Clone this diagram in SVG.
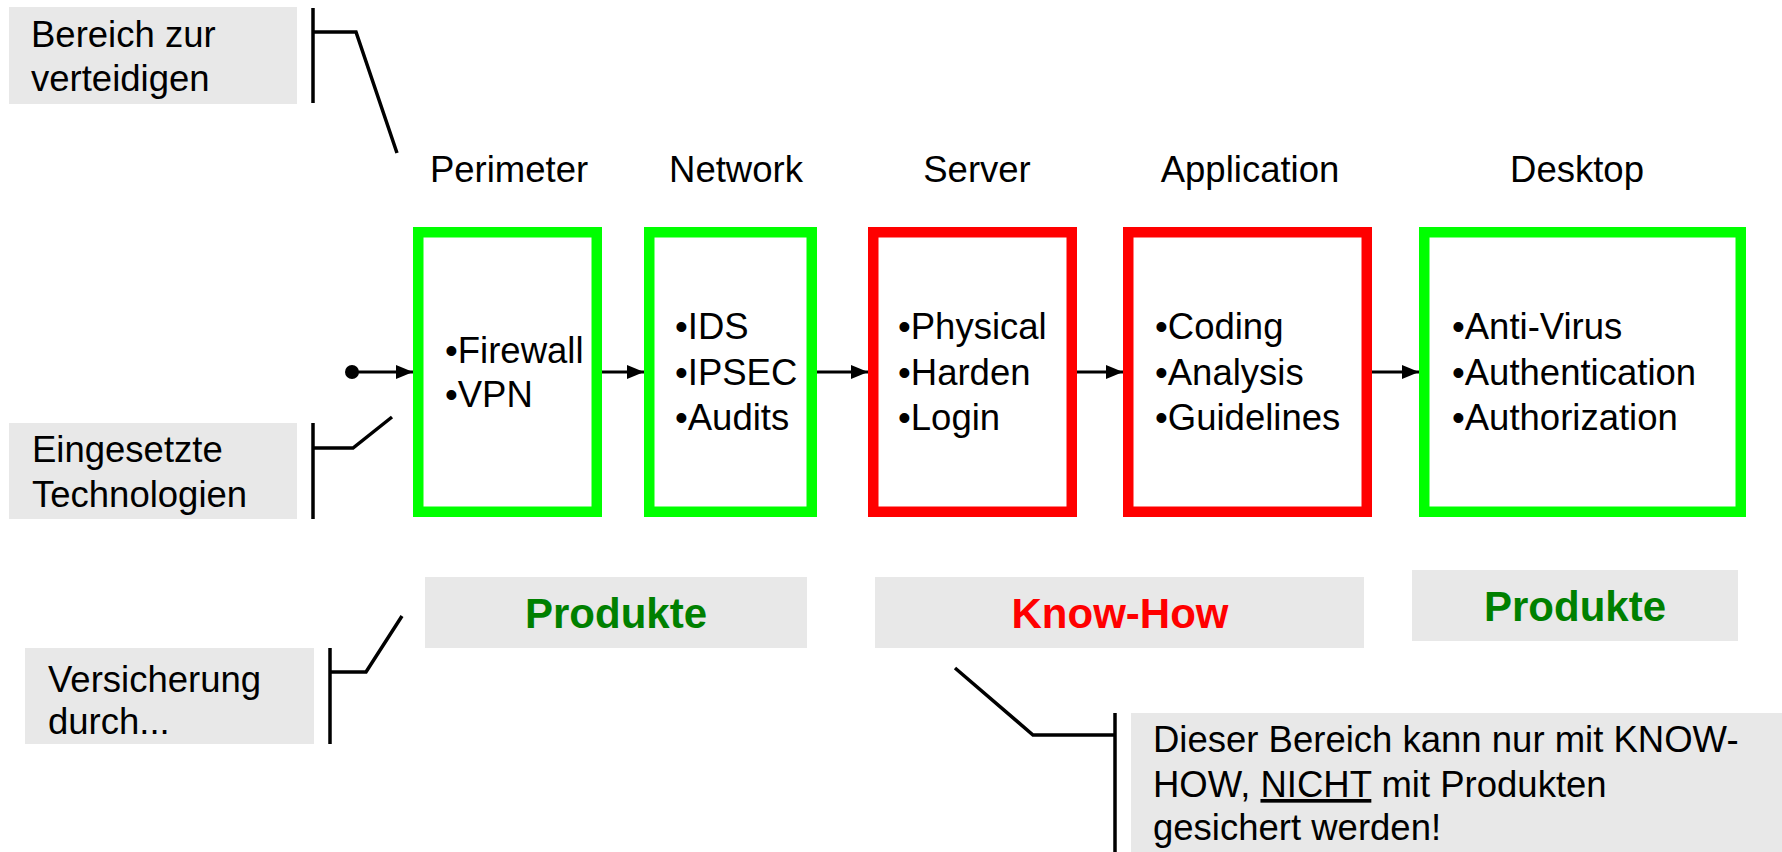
<svg xmlns="http://www.w3.org/2000/svg" width="1782" height="852" viewBox="0 0 1782 852">
<style>
text{font-family:"Liberation Sans",Arial,sans-serif;font-size:36.5px;fill:#000}
.gbox{fill:#e8e8e8}
.green{fill:none;stroke:#00ff00;stroke-width:10.5}
.red{fill:none;stroke:#ff0000;stroke-width:10.5}
.big{font-weight:bold;font-size:42px;text-anchor:middle}
.title{text-anchor:middle}
.line{fill:none;stroke:#000;stroke-width:3.5}
.arr{fill:none;stroke:#000;stroke-width:3;marker-end:url(#ah)}
</style>
<defs>
<marker id="ah" markerUnits="userSpaceOnUse" markerWidth="17" markerHeight="14" refX="17" refY="7" orient="auto">
<path d="M0,0 L17,7 L0,14 Z" fill="#000"/>
</marker>
</defs>
<g id="label-bereich">
<rect class="gbox" x="9" y="7" width="288" height="97"/>
<text x="31" y="47">Bereich zur</text>
<text x="31" y="91">verteidigen</text>
</g>
<g id="label-technologien">
<rect class="gbox" x="9" y="423" width="288" height="96"/>
<text x="32" y="462">Eingesetzte</text>
<text x="32" y="507">Technologien</text>
</g>
<g id="label-versicherung">
<rect class="gbox" x="25" y="648" width="289" height="96"/>
<text x="48" y="692">Versicherung</text>
<text x="48" y="734">durch...</text>
</g>
<g id="titles">
<text class="title" x="509" y="182">Perimeter</text>
<text class="title" x="736" y="182">Network</text>
<text class="title" x="977" y="182">Server</text>
<text class="title" x="1250" y="182">Application</text>
<text class="title" x="1577" y="182">Desktop</text>
</g>
<g id="perimeter">
<rect class="green" x="418.25" y="232.25" width="178.5" height="279.5"/>
<text x="445" y="363">•Firewall</text>
<text x="445" y="407">•VPN</text>
</g>
<g id="network">
<rect class="green" x="649.25" y="232.25" width="162.5" height="279.5"/>
<text x="675" y="339">•IDS</text>
<text x="675" y="385">•IPSEC</text>
<text x="675" y="430">•Audits</text>
</g>
<g id="server">
<rect class="red" x="873.25" y="232.25" width="198.5" height="279.5"/>
<text x="898" y="339">•Physical</text>
<text x="898" y="385">•Harden</text>
<text x="898" y="430">•Login</text>
</g>
<g id="application">
<rect class="red" x="1128.25" y="232.25" width="238.5" height="279.5"/>
<text x="1155" y="339">•Coding</text>
<text x="1155" y="385">•Analysis</text>
<text x="1155" y="430">•Guidelines</text>
</g>
<g id="desktop">
<rect class="green" x="1424.25" y="232.25" width="316.5" height="279.5"/>
<text x="1452" y="339">•Anti-Virus</text>
<text x="1452" y="385">•Authentication</text>
<text x="1452" y="430">•Authorization</text>
</g>
<g id="produkte1">
<rect class="gbox" x="425" y="577" width="382" height="71"/>
<text class="big" x="616" y="628" style="fill:#008000">Produkte</text>
</g>
<g id="knowhow">
<rect class="gbox" x="875" y="577" width="489" height="71"/>
<text class="big" x="1120" y="628" style="fill:#ff0000">Know-How</text>
</g>
<g id="produkte2">
<rect class="gbox" x="1412" y="570" width="326" height="71"/>
<text class="big" x="1575" y="621" style="fill:#008000">Produkte</text>
</g>
<g id="note">
<rect class="gbox" x="1131" y="713" width="651" height="139"/>
<text x="1153" y="752">Dieser Bereich kann nur mit KNOW-</text>
<text x="1153" y="797">HOW, <tspan text-decoration="underline">NICHT</tspan> mit Produkten</text>
<text x="1153" y="840">gesichert werden!</text>
</g>
<g id="connectors">
<circle cx="352" cy="372" r="7" fill="#000"/>
<line class="arr" x1="352" y1="372" x2="413" y2="372"/>
<line class="arr" x1="602" y1="372" x2="644" y2="372"/>
<line class="arr" x1="817" y1="372" x2="868" y2="372"/>
<line class="arr" x1="1077" y1="372" x2="1123" y2="372"/>
<line class="arr" x1="1372" y1="372" x2="1419" y2="372"/>
<line class="line" x1="313" y1="8" x2="313" y2="103"/>
<polyline class="line" points="313,32 356,32 397,153"/>
<line class="line" x1="313" y1="423" x2="313" y2="519"/>
<polyline class="line" points="313,448 353,448 392,417"/>
<line class="line" x1="330" y1="648" x2="330" y2="744"/>
<polyline class="line" points="330,672 366,672 402,616"/>
<line class="line" x1="1115" y1="713" x2="1115" y2="852"/>
<polyline class="line" points="1115,735 1033,735 955,668"/>
</g>
</svg>
